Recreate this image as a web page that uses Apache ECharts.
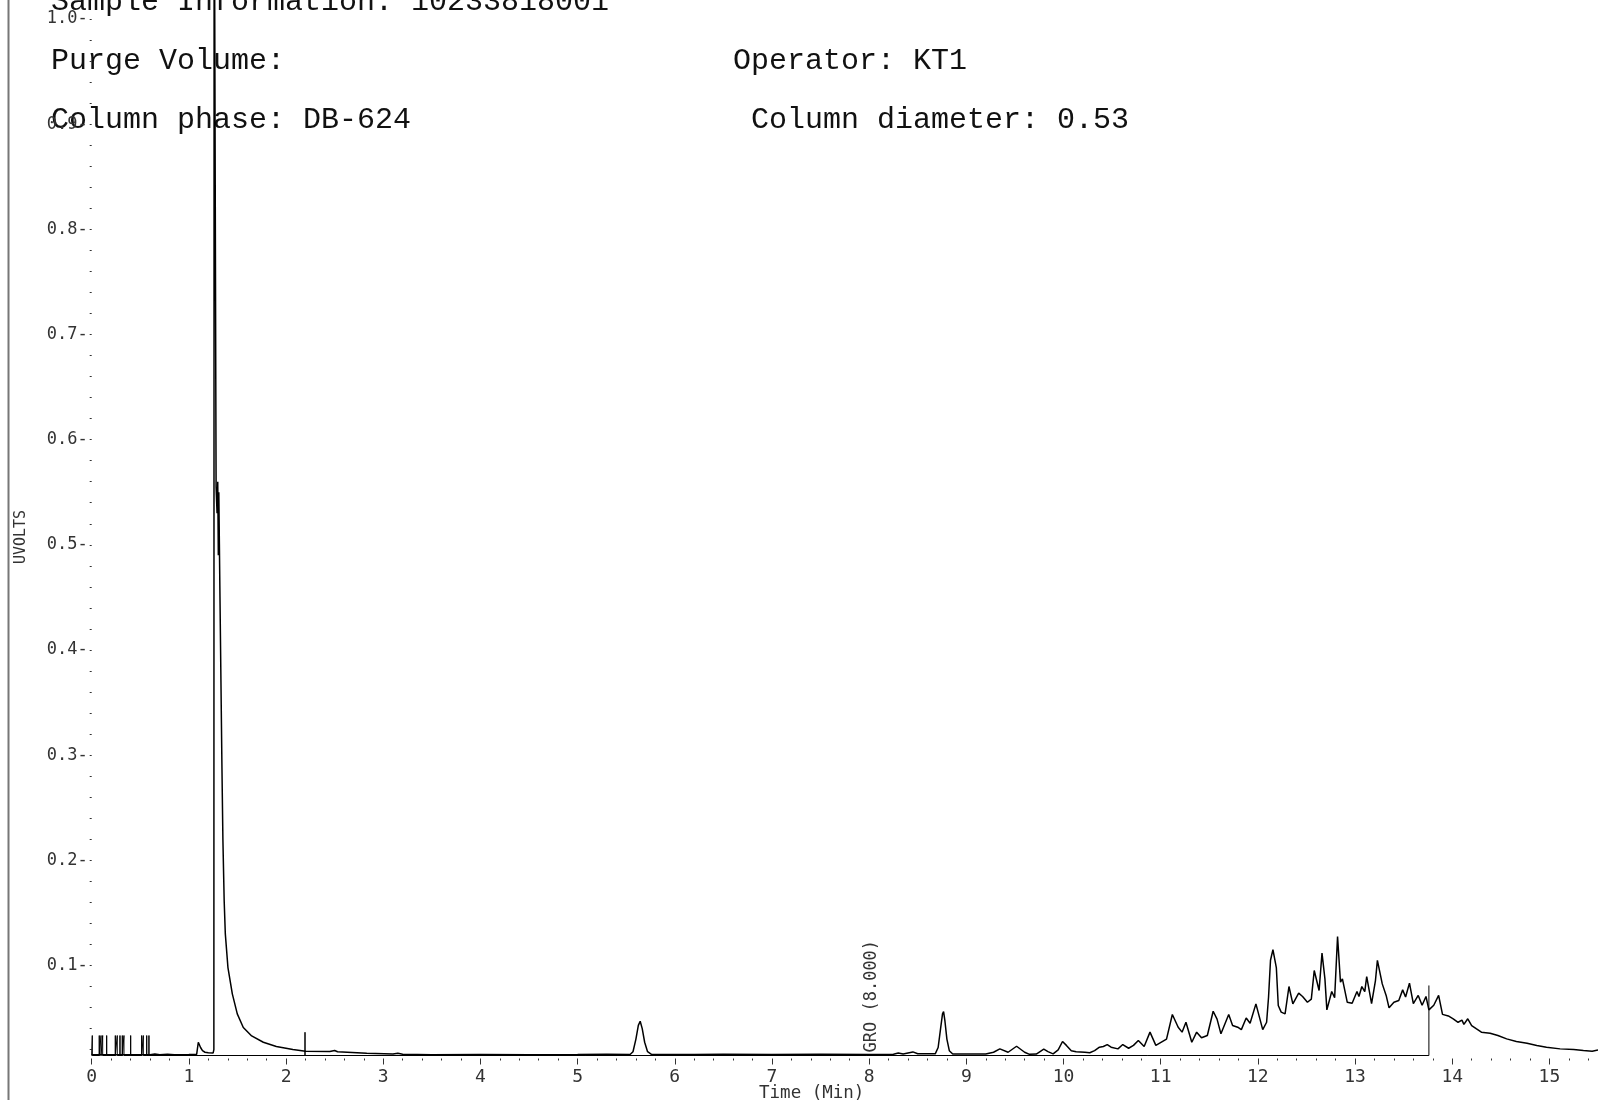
<!DOCTYPE html>
<html>
<head>
<meta charset="utf-8">
<script src="https://cdn.jsdelivr.net/npm/echarts@6/dist/echarts.min.js"></script>
<style>
html,body{margin:0;padding:0;background:#fff;}
#chart{width:1598px;height:1100px;}
</style>
</head>
<body>
<div id="chart"></div>
<script>
// ---- Data ----
const traceTime = [
  0.00,0.60,0.65,0.70,0.78,0.85,1.00,1.08,1.09,1.097,1.12,1.14,1.166,1.20,1.25,
  1.257,1.26,1.275,1.28,1.29,1.297,1.303,1.308,1.314,1.32,1.33,1.34,1.35,1.363,1.375,
  1.402,1.447,1.498,1.56,1.646,1.766,1.90,2.07,2.20,2.45,2.50,2.53,2.83,3.10,3.15,
  3.20,3.50,4.00,4.50,5.00,5.30,5.54,5.57,5.60,5.625,5.644,5.665,5.69,5.72,5.76,
  6.20,6.50,7.00,7.50,8.00,8.25,8.30,8.35,8.45,8.50,8.68,8.71,8.735,8.755,8.766,
  8.78,8.80,8.825,8.86,9.20,9.28,9.345,9.43,9.517,9.60,9.65,9.72,9.797,9.84,9.893,
  9.945,9.99,10.03,10.08,10.13,10.22,10.27,10.32,10.37,10.41,10.45,10.49,10.56,10.61,10.67,
  10.72,10.77,10.83,10.89,10.95,11.06,11.12,11.18,11.22,11.26,11.32,11.37,11.42,11.48,11.54,
  11.58,11.62,11.70,11.74,11.80,11.83,11.88,11.92,11.98,12.05,12.09,12.11,12.13,12.155,12.19,
  12.21,12.24,12.28,12.32,12.36,12.42,12.46,12.51,12.55,12.58,12.63,12.66,12.69,12.71,12.76,
  12.79,12.82,12.85,12.87,12.92,12.97,13.02,13.04,13.07,13.10,13.12,13.17,13.21,13.23,13.28,
  13.32,13.35,13.40,13.45,13.49,13.52,13.56,13.60,13.65,13.69,13.73,13.76,13.81,13.86,13.90,
  13.96,14.01,14.06,14.10,14.12,14.16,14.20,14.25,14.30,14.39,14.47,14.56,14.66,14.77,14.87,
  14.97,15.11,15.25,15.35,15.44,15.50
];
const traceValue = [
  0.0152,0.0152,0.0158,0.0152,0.0157,0.0152,0.0153,0.0155,0.0155,0.0270,0.0220,0.0190,0.0175,0.0170,0.0168,
  0.0200,1.2000,1.2000,0.5550,0.5300,0.5600,0.4900,0.5500,0.5000,0.4500,0.3700,0.2900,0.2200,0.1620,0.1300,
  0.0980,0.0730,0.0540,0.0410,0.0330,0.0270,0.0230,0.0200,0.0185,0.0182,0.0192,0.0180,0.0166,0.0158,0.0165,
  0.0155,0.0152,0.0153,0.0152,0.0153,0.0155,0.0153,0.0180,0.0300,0.0430,0.0470,0.0400,0.0270,0.0180,0.0155,
  0.0153,0.0155,0.0153,0.0155,0.0153,0.0155,0.0168,0.0158,0.0178,0.0160,0.0160,0.0220,0.0400,0.0540,0.0562,
  0.0470,0.0300,0.0190,0.0158,0.0158,0.0175,0.0207,0.0175,0.0232,0.0175,0.0155,0.0158,0.0204,0.0181,0.0160,
  0.0197,0.0277,0.0240,0.0190,0.0180,0.0175,0.0170,0.0190,0.0223,0.0230,0.0248,0.0223,0.0207,0.0248,0.0213,
  0.0240,0.0286,0.0230,0.0366,0.0240,0.0300,0.0534,0.0413,0.0366,0.0460,0.0270,0.0366,0.0313,0.0334,0.0565,
  0.0490,0.0350,0.0534,0.0430,0.0410,0.0390,0.0500,0.0450,0.0635,0.0390,0.0460,0.0700,0.1050,0.1150,0.0980,
  0.0620,0.0556,0.0540,0.0800,0.0635,0.0737,0.0705,0.0650,0.0680,0.0952,0.0762,0.1117,0.0873,0.0578,0.0752,
  0.0693,0.1276,0.0841,0.0873,0.0650,0.0640,0.0752,0.0705,0.0800,0.0752,0.0895,0.0638,0.0857,0.1048,0.0825,
  0.0715,0.0597,0.0650,0.0667,0.0768,0.0700,0.0832,0.0638,0.0715,0.0622,0.0705,0.0578,0.0622,0.0715,0.0535,
  0.0520,0.0493,0.0460,0.0480,0.0440,0.0493,0.0429,0.0397,0.0366,0.0356,0.0334,0.0302,0.0277,0.0261,0.0239,
  0.0223,0.0207,0.0200,0.0191,0.0185,0.0197
];
// event marks drawn up from the baseline
const markerTime = [0.006,0.078,0.096,0.113,0.154,0.243,0.263,0.291,0.315,0.332,0.401,0.514,0.531,0.566,0.589,2.195];
const markerTop  = [0.0334,0.0334,0.0334,0.0334,0.0334,0.0334,0.0334,0.0334,0.0334,0.0334,0.0334,0.0334,0.0334,0.0334,0.0334,0.0365];
// integration baseline end
const integrationEnd = 13.76;
const integrationTop = 0.081;
// axes
const xTickLabels = [0,1,2,3,4,5,6,7,8,9,10,11,12,13,14,15];
const yTickLabels = [0.1,0.2,0.3,0.4,0.5,0.6,0.7,0.8,0.9,1.0];
const xMin = 0, xMax = 15.5;
const yMin = 0.0144, yMax = 1.018;
const groTime = 8.0;
const groText = 'GRO (8.000)';
const headerLines = [
  ['Sample Information: 10233818001', 'left', 0],
  ['Purge Volume:', 'left', 1],
  ['Operator: KT1', 'right', 1],
  ['Column phase: DB-624', 'left', 2],
  ['Column diameter: 0.53', 'right2', 2]
];

// ---- build ----
const trace = traceTime.map((t, i) => [t, traceValue[i]]);
const basePath = [[xMin, yMin]];
markerTime.forEach((t, i) => {
  basePath.push([t, yMin], [t, markerTop[i]], [t, yMin]);
});
basePath.push([integrationEnd, yMin], [integrationEnd, integrationTop]);

const xMinor = [];
for (let k = 0; k <= 77; k++) { const v = +(k * 0.2).toFixed(2); if (Math.abs(v - Math.round(v)) > 1e-6 && v < xMax) xMinor.push(v); }
const yTicks = [];
for (let k = 1; k <= 50; k++) yTicks.push(+(k * 0.02).toFixed(2));

const smallFont = 'DejaVu Sans Mono';
const chart = echarts.init(document.getElementById('chart'), null, {renderer: 'canvas'});
const option = {
  animation: false,
  backgroundColor: '#fff',
  grid: {left: 91.7, right: 0, top: 0, bottom: 44.5, containLabel: false, outerBoundsMode: 'none'},
  xAxis: [
    {
      type: 'value', min: xMin, max: xMax, offset: 3,
      axisLine: {show: false},
      axisTick: {show: true, customValues: xTickLabels, length: 6, lineStyle: {color: '#333', width: 1}},
      axisLabel: {show: true, customValues: xTickLabels, margin: 10, color: '#333',
                  fontFamily: smallFont, fontSize: 18},
      splitLine: {show: false}
    },
    {
      type: 'value', min: xMin, max: xMax, offset: 3, position: 'bottom',
      axisLine: {show: false},
      axisTick: {show: true, customValues: xMinor, length: 2, lineStyle: {color: '#333', width: 1}},
      axisLabel: {show: false},
      splitLine: {show: false}
    }
  ],
  yAxis: {
    type: 'value', min: yMin, max: yMax, offset: 3,
    axisLine: {show: false},
    axisTick: {show: true, customValues: yTicks, length: 2, lineStyle: {color: '#333', width: 1}},
    axisLabel: {show: true, customValues: yTickLabels, margin: 1, color: '#333',
                fontFamily: smallFont, fontSize: 17,
                formatter: v => v.toFixed(1) + '-'},
    splitLine: {show: false}
  },
  series: [
    {
      type: 'line', data: basePath, symbol: 'none', clip: true, z: 2,
      lineStyle: {color: '#000', width: 1}
    },
    {
      type: 'line', data: trace, symbol: 'none', clip: true, z: 3,
      lineStyle: {color: '#000', width: 1.5}
    }
  ]
};
chart.setOption(option);

const groPx = chart.convertToPixel({xAxisIndex: 0, yAxisIndex: 0}, [groTime, yMin]);
const headerFont = {fontFamily: 'Liberation Mono', fontSize: 30, fill: '#111'};
const headerX = {left: 51, right: 733, right2: 751};
const headerY = [2, 61, 120];
const graphics = [
  {type: 'line', shape: {x1: 8.5, y1: 0, x2: 8.5, y2: 1100}, style: {stroke: '#777', lineWidth: 2}, silent: true},
  {type: 'text', x: 21, y: 537, rotation: Math.PI / 2,
   style: {text: 'UVOLTS', fontFamily: smallFont, fontSize: 15, fill: '#333', align: 'center', verticalAlign: 'middle'}},
  {type: 'text', x: 811.7, y: 1093,
   style: {text: 'Time (Min)', fontFamily: smallFont, fontSize: 17.5, fill: '#333', align: 'center', verticalAlign: 'middle'}},
  {type: 'text', x: groPx[0] + 2, y: groPx[1] - 3, rotation: Math.PI / 2,
   style: {text: groText, fontFamily: smallFont, fontSize: 17, fill: '#333', align: 'left', verticalAlign: 'middle'}}
];
headerLines.forEach(h => {
  graphics.push({type: 'text', x: headerX[h[1]], y: headerY[h[2]],
    style: Object.assign({text: h[0], align: 'left', verticalAlign: 'middle'}, headerFont)});
});
chart.setOption({graphic: graphics});
</script>
</body>
</html>
